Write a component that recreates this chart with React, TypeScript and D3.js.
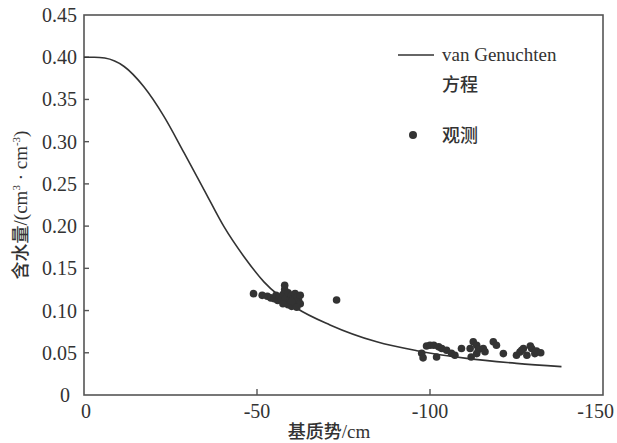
import React from "react";
import * as d3 from "d3";

// Fitted van Genuchten retention curve (matric potential in cm, water content in cm³/cm³)
const curveH = [0, -3, -6, -11.6, -17.3, -23.1, -28.9, -34.7, -40.5, -46.2, -52, -61.5, -71.1, -84.6, -96.2, -110.6, -125, -138];
const curveTheta = [0.4, 0.4, 0.399, 0.389, 0.365, 0.33, 0.287, 0.243, 0.199, 0.164, 0.134, 0.1027, 0.083, 0.063, 0.0525, 0.0434, 0.0375, 0.0336];

// Observed points
const obsH = [
  -49, -51.5, -53, -54, -55, -55.5, -56, -56.5, -57, -57.5, -58, -58, -58.5, -58.5, -59, -59, -59.5, -60, -60, -60.5,
  -61, -61, -61.5, -62, -62.5, -62.5, -57.5, -60, -61.5, -73,
  -97.6, -98, -99, -100, -101.1, -101.9, -102.5, -103.4, -104.8, -106.2, -107.2, -109.1, -111.6, -111.9, -112.5,
  -113.5, -113.5, -114, -115.4, -115.9, -118.3, -119.2, -121.2, -125, -126, -127, -128, -129.4, -130.3, -130.8, -132,
  -126.5, -129,
];
const obsTheta = [
  0.12, 0.118, 0.117, 0.115, 0.114, 0.118, 0.112, 0.116, 0.113, 0.119, 0.125, 0.13, 0.11, 0.115, 0.121, 0.107, 0.112,
  0.118, 0.105, 0.114, 0.109, 0.12, 0.116, 0.112, 0.108, 0.118, 0.108, 0.111, 0.104, 0.1125,
  0.0493, 0.044, 0.058, 0.059, 0.059, 0.045, 0.057, 0.055, 0.053, 0.0493, 0.047, 0.055, 0.055, 0.045, 0.063, 0.059,
  0.049, 0.054, 0.055, 0.0513, 0.063, 0.059, 0.049, 0.047, 0.051, 0.055, 0.047, 0.055, 0.049, 0.052, 0.05, 0.053, 0.058,
];

const xTicks = [0, -50, -100, -150];
const xTickLabels = ["0", "-50", "-100", "-150"];
const yTicks = [0, 0.05, 0.1, 0.15, 0.2, 0.25, 0.3, 0.35, 0.4, 0.45];
const yTickLabels = ["0", "0.05", "0.10", "0.15", "0.20", "0.25", "0.30", "0.35", "0.40", "0.45"];

const W = 617;
const H = 443;
const L = 84, R = 603, T = 15, B = 395;
const ink = "#333";
const axisColor = "#555";
const serif = "Liberation Serif, Times New Roman, DejaVu Serif, serif";
const cjk = "Noto Sans CJK SC, sans-serif";

export default function App() {
  const x = d3.scaleLinear().domain([0, -150]).range([L, R]);
  const y = d3.scaleLinear().domain([0, 0.45]).range([B, T]);

  const line = d3
    .line<number>()
    .x((_, i) => x(curveH[i]))
    .y((d) => y(d))
    .curve(d3.curveMonotoneX);

  const serifStyle = { fontFamily: serif };
  const cjkStyle = { fontFamily: cjk, fontWeight: 500 };

  return (
    <svg width={W} height={H} style={{ position: "absolute", left: 0, top: 0, background: "#fff" }}>
      <rect x={0} y={0} width={W} height={H} fill="#fff" />
      {/* plot frame */}
      <rect x={L} y={T} width={R - L} height={B - T} fill="none" stroke={axisColor} strokeWidth={1.6} />

      {/* y axis ticks */}
      {yTicks.map((t, i) => (
        <g key={"y" + i}>
          {i > 0 && i < yTicks.length - 1 && (
            <line x1={L} x2={L + 5} y1={y(t)} y2={y(t)} stroke={axisColor} strokeWidth={1.4} />
          )}
          <text
            x={L - 7 - (i === 0 ? 7 : 0)}
            y={y(t)}
            dy="0.35em"
            textAnchor="end"
            style={serifStyle}
            fontSize={20}
            fill={ink}
          >
            {yTickLabels[i]}
          </text>
        </g>
      ))}

      {/* x axis ticks */}
      {xTicks.map((t, i) => (
        <g key={"x" + i}>
          {i > 0 && i < xTicks.length - 1 && (
            <line x1={x(t)} x2={x(t)} y1={B} y2={B - 6} stroke={axisColor} strokeWidth={1.4} />
          )}
          <text
            x={i === xTicks.length - 1 ? 614 : x(t) + (i === 0 ? 2 : 0)}
            y={418}
            textAnchor={i === xTicks.length - 1 ? "end" : "middle"}
            style={serifStyle}
            fontSize={20}
            fill={ink}
          >
            {xTickLabels[i]}
          </text>
        </g>
      ))}

      {/* fitted curve */}
      <path d={line(curveTheta) || ""} fill="none" stroke={ink} strokeWidth={1.6} />

      {/* observations */}
      {obsH.map((h, i) => (
        <circle key={"o" + i} cx={x(h)} cy={y(obsTheta[i])} r={3.8} fill={ink} />
      ))}

      {/* legend */}
      <line x1={398} x2={434} y1={55} y2={55} stroke={ink} strokeWidth={1.6} />
      <text x={442} y={61} style={serifStyle} fontSize={19} fill={ink}>
        van Genuchten
      </text>
      <text x={442} y={91} style={cjkStyle} fontSize={18} fill={ink}>
        方程
      </text>
      <circle cx={413} cy={135} r={4} fill={ink} />
      <text x={442} y={142} style={cjkStyle} fontSize={18} fill={ink}>
        观测
      </text>

      {/* axis titles */}
      <text x={329} y={438} textAnchor="middle" fill={ink} fontSize={18}>
        <tspan style={cjkStyle}>基质势</tspan>
        <tspan style={serifStyle} fontSize={19}>/cm</tspan>
      </text>
      <text transform="translate(27,205) rotate(-90)" textAnchor="middle" fill={ink} fontSize={18}>
        <tspan style={cjkStyle}>含水量</tspan>
        <tspan style={serifStyle} fontSize={19}>/(cm</tspan>
        <tspan style={serifStyle} fontSize={11} dy={-7}>3</tspan>
        <tspan style={serifStyle} fontSize={19} dy={7}> · cm</tspan>
        <tspan style={serifStyle} fontSize={11} dy={-7}>-3</tspan>
        <tspan style={serifStyle} fontSize={19} dy={7}>)</tspan>
      </text>
    </svg>
  );
}
